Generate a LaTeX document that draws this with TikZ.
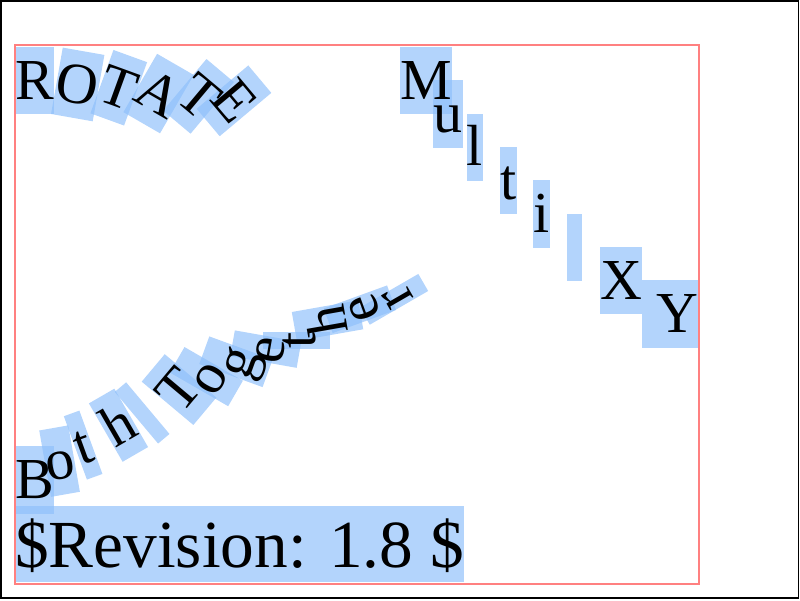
\documentclass[tikz,border=0pt]{standalone}
\usepackage{fontspec}
\setmainfont{Liberation Serif}
\usetikzlibrary{backgrounds}
\definecolor{hilite}{RGB}{140,190,250}
\definecolor{framered}{RGB}{255,128,128}
\tikzset{glyph/.style={anchor=base west, inner sep=0pt, text height=52pt, text depth=15pt, font=\fontsize{58}{58}\selectfont,
		append after command={\pgfextra{\begin{pgfonlayer}{background}
					\fill[hilite, fill opacity=0.66] (\tikzlastnode.north west) -- (\tikzlastnode.north east)
					-- (\tikzlastnode.south east) -- (\tikzlastnode.south west) -- cycle;
				\end{pgfonlayer}}}}}

\begin{document}
\begin{tikzpicture}[x=1pt, y=-1pt]
			%%%%% START %%%%%
			
			\useasboundingbox (0,0) rectangle (800,600);
			\draw[line width=1.2pt] (1,1) rectangle (798.5,598);
			\draw[framered, line width=1.3pt] (15,45) rectangle (699,584);
			
			%% ROTATE
			\node[glyph, rotate=0] (rot0) at (15,99) {R};
			\node[glyph, rotate=-10] (rot1) at (53.7,99) {O};
			\node[glyph, rotate=-20] (rot2) at (95.6,99) {T};
			\node[glyph, rotate=-30] (rot3) at (131,99) {A};
			\node[glyph, rotate=-40] (rot4) at (172.9,99) {T};
			\node[glyph, rotate=-50] (rot5) at (208.3,99) {E};
			
			%% Multi XY
			\node[glyph] (multi0) at (400,99) {M};
			\node[glyph] (multi1) at (433.3,132.3) {u};
			\node[glyph] (multi2) at (466.7,165.7) {l};
			\node[glyph] (multi3) at (500,199) {t};
			\node[glyph] (multi4) at (533.3,232.3) {i};
			\node[glyph, minimum width=15pt] (multi5) at (566.7,265.7) {};
			\node[glyph] (multi6) at (600,299) {X};
			\node[glyph] (multi7) at (641.7,332.3) {\makebox[56.6pt][r]{Y}};
			
			%% Both Together
			\node[glyph, rotate=0] (both0) at (15,498.6) {B};
			\node[glyph, rotate=10] (both1) at (48.3,481.9) {o};
			\node[glyph, rotate=20] (both2) at (81.7,465.3) {t};
			\node[glyph, rotate=30] (both3) at (115,448.6) {h};
			\node[glyph, rotate=40, minimum width=14.5pt] (both4) at (148.3,431.9) {};
			\node[glyph, rotate=50] (both5) at (181.7,415.2) {T};
			\node[glyph, rotate=60] (both6) at (215,398.6) {o};
			\node[glyph, rotate=70] (both7) at (248.3,381.9) {g};
			\node[glyph, rotate=80] (both8) at (281.7,365.2) {e};
			\node[glyph, rotate=90] (both9) at (315,348.6) {t};
			\node[glyph, rotate=100] (both10) at (348.3,331.9) {h};
			\node[glyph, rotate=110] (both11) at (381.7,315.2) {e};
			\node[glyph, rotate=120] (both12) at (415,298.6) {r};
			
			\node[glyph, text height=61pt, text depth=15pt, font=\fontsize{67.3}{67.3}\selectfont] (rev) at (15,567) {\$Revision: 1.8 \$};
			
			%%%%% END %%%%%
\end{tikzpicture}
\end{document}
